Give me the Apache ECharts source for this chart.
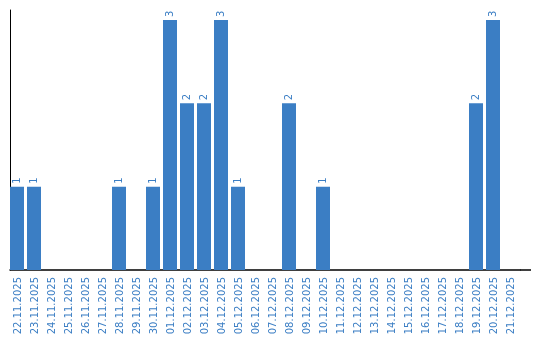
<!DOCTYPE html>
<html><head><meta charset="utf-8">
<script src="https://cdn.jsdelivr.net/npm/echarts@6/dist/echarts.min.js"></script>
<style>html,body{margin:0;padding:0;background:#fff}#c{width:540px;height:340px}</style>
</head><body><div id="c"></div>
<script>
const categories = ["22.11.2025","23.11.2025","24.11.2025","25.11.2025","26.11.2025","27.11.2025","28.11.2025","29.11.2025","30.11.2025","01.12.2025","02.12.2025","03.12.2025","04.12.2025","05.12.2025","06.12.2025","07.12.2025","08.12.2025","09.12.2025","10.12.2025","11.12.2025","12.12.2025","13.12.2025","14.12.2025","15.12.2025","16.12.2025","17.12.2025","18.12.2025","19.12.2025","20.12.2025","21.12.2025"];
const counts = [1,1,0,0,0,0,1,0,1,3,2,2,3,1,0,0,2,0,1,0,0,0,0,0,0,0,0,2,3,0];

const blue = '#3b7ec4';
const chart = echarts.init(document.getElementById('c'), null, {renderer:'canvas'});
chart.setOption({
  animation:false,
  grid:{left:10, top:10, width:510, bottom:70},
  xAxis:{
    type:'category', data:categories, boundaryGap:true,
    axisLine:{lineStyle:{color:'#000', width:1.5}},
    axisTick:{show:false},
    axisLabel:{rotate:90, interval:0, margin:7, color:blue, fontFamily:'DejaVu Sans', fontSize:10}
  },
  yAxis:{
    type:'value', min:0, max:3.12,
    axisLine:{show:true, lineStyle:{color:'#000', width:1}},
    axisTick:{show:false}, axisLabel:{show:false}, splitLine:{show:false}
  },
  series:[
    {type:'bar', data:counts.map(v=>v===0?null:v), barWidth:14, barGap:'0%',
     itemStyle:{color:blue},
     label:{show:true, position:'top', rotate:90, align:'left', verticalAlign:'middle', distance:3,
            color:blue, fontFamily:'DejaVu Sans', fontSize:10}},
    {type:'bar', data:counts.map(()=>null), barWidth:3, silent:true, itemStyle:{color:'transparent'}}
  ]
});
// extend the x axis line slightly past the last band, as in the reference
const rect = chart.getModel().getComponent('grid').coordinateSystem.getRect();
const y0 = chart.convertToPixel({yAxisIndex:0}, 0);
chart.setOption({graphic:[{type:'line', silent:true,
  shape:{x1:rect.x + rect.width, y1:y0, x2:rect.x + rect.width + 11, y2:y0},
  style:{stroke:'#000', lineWidth:1.5}}]});
</script></body></html>
